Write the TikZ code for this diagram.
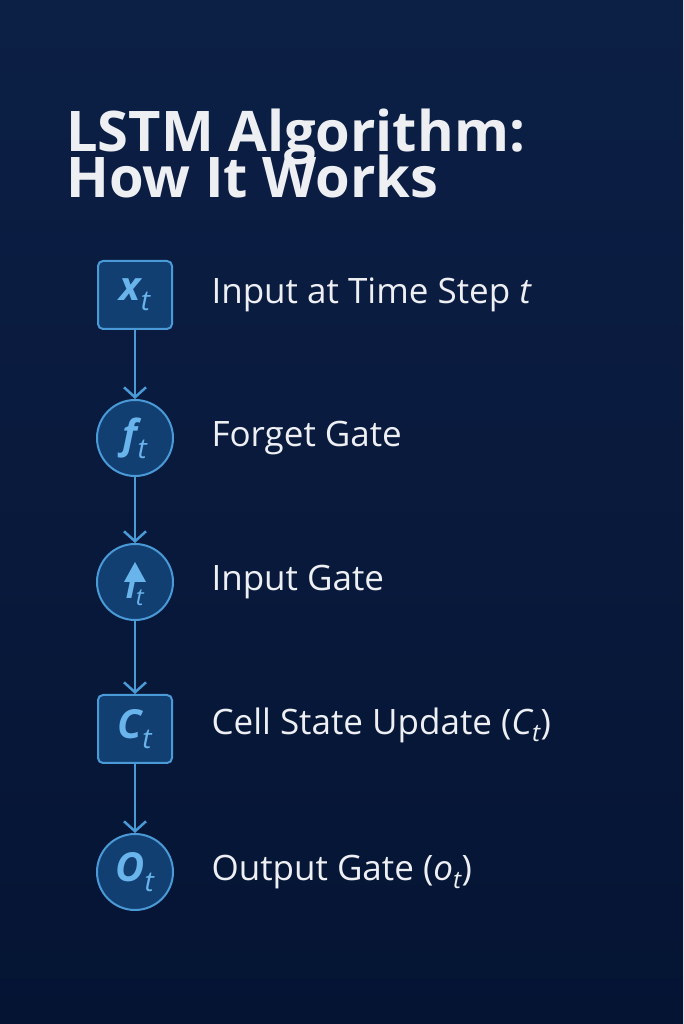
\documentclass[tikz,border=0pt]{standalone}
\usepackage{fontspec}
\setmainfont{Open Sans}
\usetikzlibrary{arrows.meta}
\definecolor{bgtop}{HTML}{0C1F45}
\definecolor{bgbot}{HTML}{051433}
\definecolor{nfill}{HTML}{123F72}
\definecolor{nline}{HTML}{4A9AD8}
\definecolor{ntext}{HTML}{6AB4EC}
\definecolor{ttext}{HTML}{EDEFF3}
\tikzset{
  sq/.style={draw=nline,fill=nfill,line width=2pt,rounded corners=5pt,minimum width=74pt,minimum height=68pt,text=ntext,font=\fontsize{40}{40}\selectfont\bfseries\itshape},
  cir/.style={draw=nline,fill=nfill,line width=2pt,circle,minimum size=76pt,inner sep=0pt,text=ntext,font=\fontsize{40}{40}\selectfont\bfseries\itshape},
  lbl/.style={anchor=west,text=ttext,font=\fontsize{35}{38}\selectfont},
  con/.style={draw=nline,line width=2.5pt,-{Straight Barb[length=10pt,width=22pt,line width=2.5pt]}}
}
\begin{document}
\begin{tikzpicture}[x=1pt,y=1pt]
\shade[top color=bgtop,bottom color=bgbot] (0,0) rectangle (683,1024);
\useasboundingbox (0,0) rectangle (683,1024);
\node[anchor=base west,text=ttext,inner sep=0pt,font=\fontsize{56}{56}\selectfont\bfseries] (t1) at (66,872) {LSTM Algorithm:};
\node[anchor=base west,text=ttext,inner sep=0pt,font=\fontsize{56}{56}\selectfont\bfseries] (t2) at (66,826) {How It Works};
\node[sq] (x) at (135,729) {x\textsubscript{\mdseries t}};
\node[cir] (f) at (135,586) {f\textsubscript{\mdseries t}};
\node[cir,font=\fontsize{34}{34}\selectfont\bfseries\itshape,text depth=0pt] (i) at (135,442) {\raisebox{-14pt}{ı\textsubscript{\mdseries t}}};
\fill[ntext] (124,442) -- (146,442) -- (135,462) -- cycle;
\node[sq] (c) at (135,295) {C\textsubscript{\mdseries t}};
\node[cir] (o) at (135,152) {O\textsubscript{\mdseries t}};
\draw[con] (x) -- (f);
\draw[con] (f) -- (i);
\draw[con] (i) -- (c);
\draw[con] (c) -- (o);
\node[lbl] (lx) at (208,729) {Input at Time Step \textit{t}};
\node[lbl] (lf) at (208,586) {Forget Gate};
\node[lbl] (li) at (208,442) {Input Gate};
\node[lbl] (lc) at (208,299) {Cell State Update (\textit{C\textsubscript{t}})};
\node[lbl] (lo) at (208,152) {Output Gate (\textit{o\textsubscript{t}})};
\end{tikzpicture}
\end{document}
